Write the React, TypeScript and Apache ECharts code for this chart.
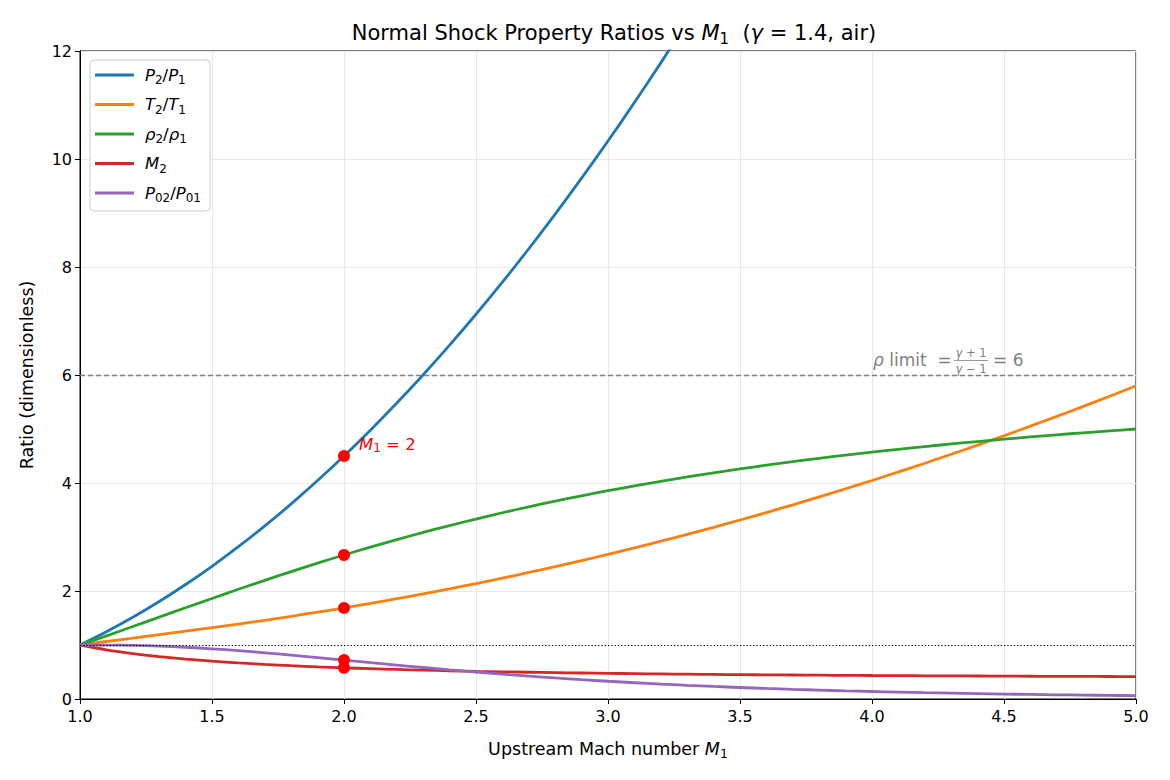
import React, { useEffect, useRef } from "react";
import * as echarts from "echarts";

const machPts = [
  1.0, 1.1, 1.2, 1.3, 1.4, 1.5, 1.6, 1.7, 1.8, 1.9,
  2.0, 2.1, 2.2, 2.3, 2.4, 2.5, 2.6, 2.7, 2.8, 2.9,
  3.0, 3.1, 3.2, 3.3, 3.4, 3.5, 3.6, 3.7, 3.8, 3.9,
  4.0, 4.1, 4.2, 4.3, 4.4, 4.5, 4.6, 4.7, 4.8, 4.9, 5.0,
];

const pressureRatio = [
  1.0, 1.245, 1.513, 1.805, 2.12, 2.458, 2.82, 3.205, 3.613, 4.045,
  4.5, 4.978, 5.48, 6.005, 6.553, 7.125, 7.72, 8.338, 8.98, 9.645,
  10.333, 11.045, 11.78, 12.538,
];

const temperatureRatio = [
  1.0, 1.065, 1.128, 1.191, 1.255, 1.32, 1.388, 1.458, 1.532, 1.608,
  1.687, 1.77, 1.857, 1.947, 2.04, 2.138, 2.238, 2.343, 2.451, 2.563,
  2.679, 2.799, 2.922, 3.049, 3.18, 3.315, 3.453, 3.596, 3.743, 3.893,
  4.047, 4.205, 4.366, 4.532, 4.702, 4.875, 5.053, 5.233, 5.418, 5.607, 5.8,
];

const densityRatio = [
  1.0, 1.169, 1.342, 1.516, 1.69, 1.862, 2.032, 2.198, 2.359, 2.516,
  2.667, 2.812, 2.951, 3.085, 3.212, 3.333, 3.449, 3.559, 3.664, 3.763,
  3.857, 3.947, 4.031, 4.112, 4.188, 4.261, 4.33, 4.395, 4.457, 4.516,
  4.571, 4.624, 4.675, 4.723, 4.768, 4.812, 4.853, 4.893, 4.93, 4.966, 5.0,
];

const downstreamMach = [
  1.0, 0.9118, 0.8422, 0.786, 0.7397, 0.7011, 0.6684, 0.6405, 0.6165, 0.5956,
  0.5774, 0.5613, 0.5471, 0.5344, 0.5231, 0.513, 0.5039, 0.4956, 0.4882, 0.4814,
  0.4752, 0.4695, 0.4643, 0.4596, 0.4552, 0.4512, 0.4474, 0.444, 0.4407, 0.4378,
  0.435, 0.4324, 0.4299, 0.4277, 0.4255, 0.4236, 0.4217, 0.4199, 0.4183, 0.4167, 0.4152,
];

const stagPressureRatio = [
  1.0, 0.9989, 0.9928, 0.9794, 0.9582, 0.9298, 0.8952, 0.8557, 0.8127, 0.7674,
  0.7209, 0.6742, 0.6281, 0.5833, 0.5401, 0.499, 0.4601, 0.4236, 0.3895, 0.3577,
  0.3283, 0.3012, 0.2762, 0.2533, 0.2322, 0.213, 0.1953, 0.1792, 0.1645, 0.151,
  0.1388, 0.1276, 0.1173, 0.108, 0.0995, 0.0917, 0.0846, 0.0781, 0.0721, 0.0667, 0.0617,
];

const markerMach = 2.0;
const markerValues = [4.5, 2.667, 1.687, 0.5774, 0.7209];

const densityLimit = 6;
const unityLevel = 1;

const seriesNames = ["P2/P1", "T2/T1", "rho2/rho1", "M2", "P02/P01"];
const seriesColors = ["#1f77b4", "#ff7f0e", "#2ca02c", "#d62728", "#9467bd"];
const legendLabels: Record<string, string> = {
  "P2/P1": "{i|P}{s|2}{n|/}{i|P}{s|1}",
  "T2/T1": "{i|T}{s|2}{n|/}{i|T}{s|1}",
  "rho2/rho1": "{i|ρ}{s|2}{n|/}{i|ρ}{s|1}",
  M2: "{i|M}{s|2}",
  "P02/P01": "{i|P}{s|02}{n|/}{i|P}{s|01}",
};

const FONT = "DejaVu Sans";

function pairs(xs: number[], ys: number[]) {
  return ys.map((y, i) => [xs[i], y]);
}

function mathRich(size: number, sub: number, lh: number, color: string) {
  return {
    i: { fontFamily: FONT, fontSize: size, fontStyle: "italic", color, lineHeight: lh },
    n: { fontFamily: FONT, fontSize: size, color, lineHeight: lh },
    s: {
      fontFamily: FONT,
      fontSize: sub,
      color,
      lineHeight: Math.round(sub + 1),
      verticalAlign: "bottom",
    },
  };
}

export default function App() {
  const ref = useRef<HTMLDivElement>(null);

  useEffect(() => {
    document.body.style.margin = "0";
    const chart = echarts.init(ref.current!, undefined, { renderer: "svg" });
    const allData = [
      pressureRatio,
      temperatureRatio,
      densityRatio,
      downstreamMach,
      stagPressureRatio,
    ];

    const lineSeries: any[] = allData.map((vals, k) => ({
      name: seriesNames[k],
      type: "line",
      data: pairs(machPts, vals),
      symbol: "none",
      showSymbol: false,
      smooth: 0.3,
      clip: true,
      lineStyle: { color: seriesColors[k], width: 2.8 },
      itemStyle: { color: seriesColors[k] },
      z: 3,
    }));

    lineSeries[0].markLine = {
      silent: true,
      symbol: "none",
      label: { show: false },
      data: [
        {
          yAxis: densityLimit,
          lineStyle: { color: "#808080", type: [5, 3], width: 1.4 },
        },
        {
          yAxis: unityLevel,
          lineStyle: { color: "#000000", type: [1.3, 2], width: 1.1 },
        },
      ],
    };

    const option: any = {
      animation: false,
      backgroundColor: "#ffffff",
      textStyle: { fontFamily: FONT },
      title: {
        text: "{n|Normal Shock Property Ratios vs }{i|M}{s|1}{n|  (}{i|γ}{n| = 1.4, air)}",
        left: 609,
        top: 15,
        textAlign: "center",
        textStyle: {
          fontFamily: FONT,
          fontSize: 21,
          fontWeight: "normal",
          color: "#000",
          rich: mathRich(21, 15, 26, "#000"),
        },
      },
      grid: {
        left: 80,
        right: 34,
        top: 51,
        bottom: 81,
        show: true,
        borderColor: "#000",
        borderWidth: 1,
        backgroundColor: "transparent",
      },
      legend: {
        orient: "vertical",
        left: 90,
        top: 60,
        data: seriesNames,
        icon: "rect",
        itemWidth: 39,
        itemHeight: 3,
        itemGap: 7.5,
        padding: [4, 9, 7, 5],
        backgroundColor: "#ffffff",
        borderColor: "#cccccc",
        borderWidth: 1,
        borderRadius: 4,
        formatter: (name: string) => legendLabels[name],
        textStyle: {
          fontFamily: FONT,
          fontSize: 16.5,
          color: "#000",
          lineHeight: 22,
          padding: [0, 0, 0, 6],
          rich: mathRich(16.5, 12, 22, "#000"),
        },
      },
      xAxis: {
        type: "value",
        min: 1,
        max: 5,
        interval: 0.5,
        name: "{n|Upstream Mach number }{i|M}{s|1}",
        nameLocation: "middle",
        nameGap: 39,
        nameTextStyle: {
          fontFamily: FONT,
          fontSize: 17.5,
          color: "#000",
          rich: mathRich(17.5, 12.5, 22, "#000"),
        },
        axisLine: { show: true, onZero: false, lineStyle: { color: "#000", width: 1 } },
        axisTick: { show: true, inside: false, length: 5, lineStyle: { color: "#000" } },
        axisLabel: {
          fontFamily: FONT,
          fontSize: 16,
          color: "#000",
          margin: 9,
          formatter: (v: number) => v.toFixed(1),
        },
        splitLine: { show: true, lineStyle: { color: "#e8e8e8", width: 1 } },
      },
      yAxis: {
        type: "value",
        min: 0,
        max: 12,
        interval: 2,
        name: "Ratio (dimensionless)",
        nameLocation: "middle",
        nameGap: 44,
        nameTextStyle: { fontFamily: FONT, fontSize: 17.5, color: "#000" },
        axisLine: { show: true, onZero: false, lineStyle: { color: "#000", width: 1 } },
        axisTick: { show: true, inside: false, length: 5, lineStyle: { color: "#000" } },
        axisLabel: { fontFamily: FONT, fontSize: 16, color: "#000", margin: 8 },
        splitLine: { show: true, lineStyle: { color: "#e8e8e8", width: 1 } },
      },
      series: [
        ...lineSeries,
        {
          name: "markers",
          type: "scatter",
          symbol: "circle",
          symbolSize: 12,
          z: 5,
          itemStyle: { color: "#ff0000", opacity: 1 },
          data: markerValues.map((v, k) =>
            k === 0
              ? {
                  value: [markerMach, v],
                  label: {
                    show: true,
                    position: "right",
                    offset: [4, -12],
                    formatter: "{i|M}{s|1}{n| = 2}",
                    color: "#ff0000",
                    fontFamily: FONT,
                    fontSize: 16.5,
                    rich: mathRich(16.5, 12, 20, "#ff0000"),
                  },
                }
              : { value: [markerMach, v] }
          ),
        },
      ],
    };

    chart.setOption(option);

    const p = chart.convertToPixel({ gridIndex: 0 }, [4.0, densityLimit]) as number[];
    const gray = "#808080";
    chart.setOption({
      graphic: [
        {
          type: "text",
          x: p[0] + 1,
          y: p[1] - 15,
          z: 10,
          style: {
            text: "{i|ρ}{n| limit  =}",
            fill: gray,
            font: `17px "${FONT}"`,
            verticalAlign: "middle",
            align: "left",
            rich: {
              i: { fontStyle: "italic", fontSize: 17, fontFamily: FONT, fill: gray },
              n: { fontSize: 17, fontFamily: FONT, fill: gray },
            },
          },
        },
        {
          type: "text",
          x: p[0] + 99,
          y: p[1] - 22,
          z: 10,
          style: {
            text: "{i|γ}{n| + 1}",
            fill: gray,
            font: `11.5px "${FONT}"`,
            align: "center",
            verticalAlign: "middle",
            rich: {
              i: { fontStyle: "italic", fontSize: 11.5, fontFamily: FONT, fill: gray },
              n: { fontSize: 11.5, fontFamily: FONT, fill: gray },
            },
          },
        },
        {
          type: "line",
          z: 10,
          shape: { x1: p[0] + 82, y1: p[1] - 14.5, x2: p[0] + 116, y2: p[1] - 14.5 },
          style: { stroke: gray, lineWidth: 0.8 },
        },
        {
          type: "text",
          x: p[0] + 99,
          y: p[1] - 6,
          z: 10,
          style: {
            text: "{i|γ}{n| − 1}",
            fill: gray,
            font: `11.5px "${FONT}"`,
            align: "center",
            verticalAlign: "middle",
            rich: {
              i: { fontStyle: "italic", fontSize: 11.5, fontFamily: FONT, fill: gray },
              n: { fontSize: 11.5, fontFamily: FONT, fill: gray },
            },
          },
        },
        {
          type: "text",
          x: p[0] + 121,
          y: p[1] - 15,
          z: 10,
          style: {
            text: "= 6",
            fill: gray,
            font: `17px "${FONT}"`,
            align: "left",
            verticalAlign: "middle",
          },
        },
      ],
    });

    return () => chart.dispose();
  }, []);

  return <div ref={ref} style={{ width: 1170, height: 780 }} />;
}
